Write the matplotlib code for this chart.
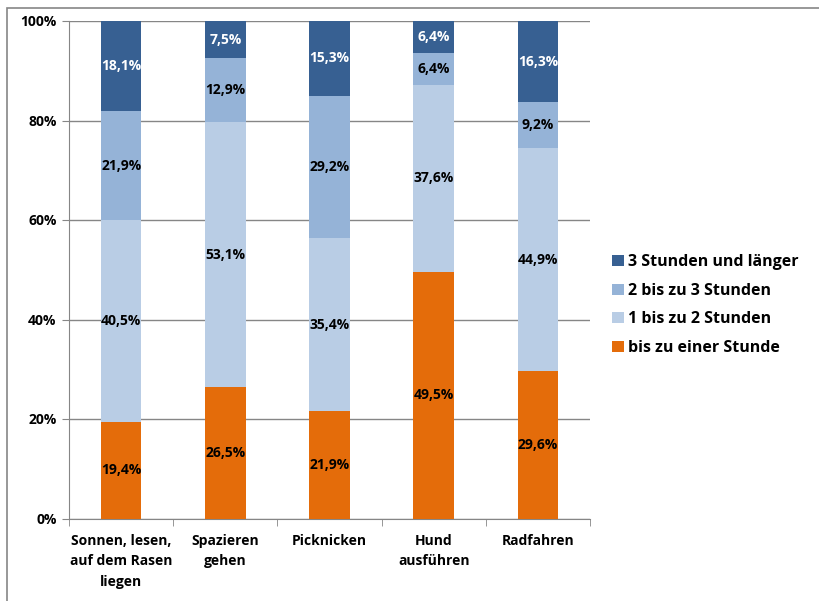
import numpy as np
import matplotlib
matplotlib.use("Agg")
import matplotlib.pyplot as plt
from matplotlib.patches import Rectangle

categories = ["Sonnen, lesen,\nauf dem Rasen\nliegen", "Spazieren\ngehen", "Picknicken",
              "Hund\nausführen", "Radfahren"]
series_names = ["bis zu einer Stunde", "1 bis zu 2 Stunden", "2 bis zu 3 Stunden",
                "3 Stunden und länger"]
bis_1h = [19.4, 26.5, 21.9, 49.5, 29.6]
h1_2 = [40.5, 53.1, 35.4, 37.6, 44.9]
h2_3 = [21.9, 12.9, 29.2, 6.4, 9.2]
h3_plus = [18.1, 7.5, 15.3, 6.4, 16.3]

colors = ["#E46C0A", "#B9CDE5", "#95B3D7", "#376092"]
text_colors = ["black", "black", "black", "white"]

plt.rcParams['font.family'] = ['Open Sans', 'DejaVu Sans']

fig = plt.figure(figsize=(8.19, 6.01), dpi=100)
ax = fig.add_axes([69 / 819, 1 - 518.5 / 601, 521 / 819, 497.5 / 601])

# outer chart border (runs off right/bottom edge)
fig.patches.append(Rectangle((6.5 / 819, -0.05), 1.1, 1 - 8 / 601 + 0.05,
                             transform=fig.transFigure, fill=False,
                             edgecolor="#868686", lw=1.2))

data = np.array([bis_1h, h1_2, h2_3, h3_plus])
share = data / data.sum(axis=0)  # 100% stacked like the Excel chart
x = np.arange(len(categories))
bottom = np.zeros(len(categories))
for i, name in enumerate(series_names):
    ax.bar(x, share[i], 0.39, bottom=bottom, color=colors[i], label=name,
           zorder=3, edgecolor="none")
    for j in range(len(x)):
        ax.text(x[j], bottom[j] + share[i, j] / 2, f"{data[i, j]:.1f}%".replace(".", ","),
                ha="center", va="center", fontsize=10, fontweight="bold",
                color=text_colors[i], zorder=4)
    bottom += share[i]

ax.set_xlim(-0.5, len(categories) - 0.5)
ax.set_ylim(0, 1)
ax.set_yticks(np.linspace(0, 1, 6))
ax.set_yticklabels([f"{v}%" for v in range(0, 101, 20)], fontsize=10, fontweight="bold")
ax.yaxis.grid(True, color="#868686", lw=1, zorder=0)
ax.set_xticks(x)
ax.set_xticklabels(categories, fontsize=10, fontweight="bold", linespacing=1.6)
ax.set_xticks(np.arange(-0.5, len(categories)), minor=True)
ax.tick_params(axis="x", which="major", length=0, pad=11)
ax.tick_params(axis="x", which="minor", length=5, color="#868686")
ax.tick_params(axis="y", length=5, color="#868686", pad=4)
for s in ["top", "right"]:
    ax.spines[s].set_visible(False)
for s in ["left", "bottom"]:
    ax.spines[s].set_color("#868686")

handles, labels = ax.get_legend_handles_labels()
fig.legend(handles[::-1], labels[::-1], loc="upper left",
           bbox_to_anchor=(598 / 819, 1 - 240 / 601), frameon=False,
           prop={"size": 11.5, "weight": "bold"}, handlelength=0.7, handleheight=0.7,
           handletextpad=0.25, labelspacing=0.78)

fig.savefig("out.png", dpi=100)
